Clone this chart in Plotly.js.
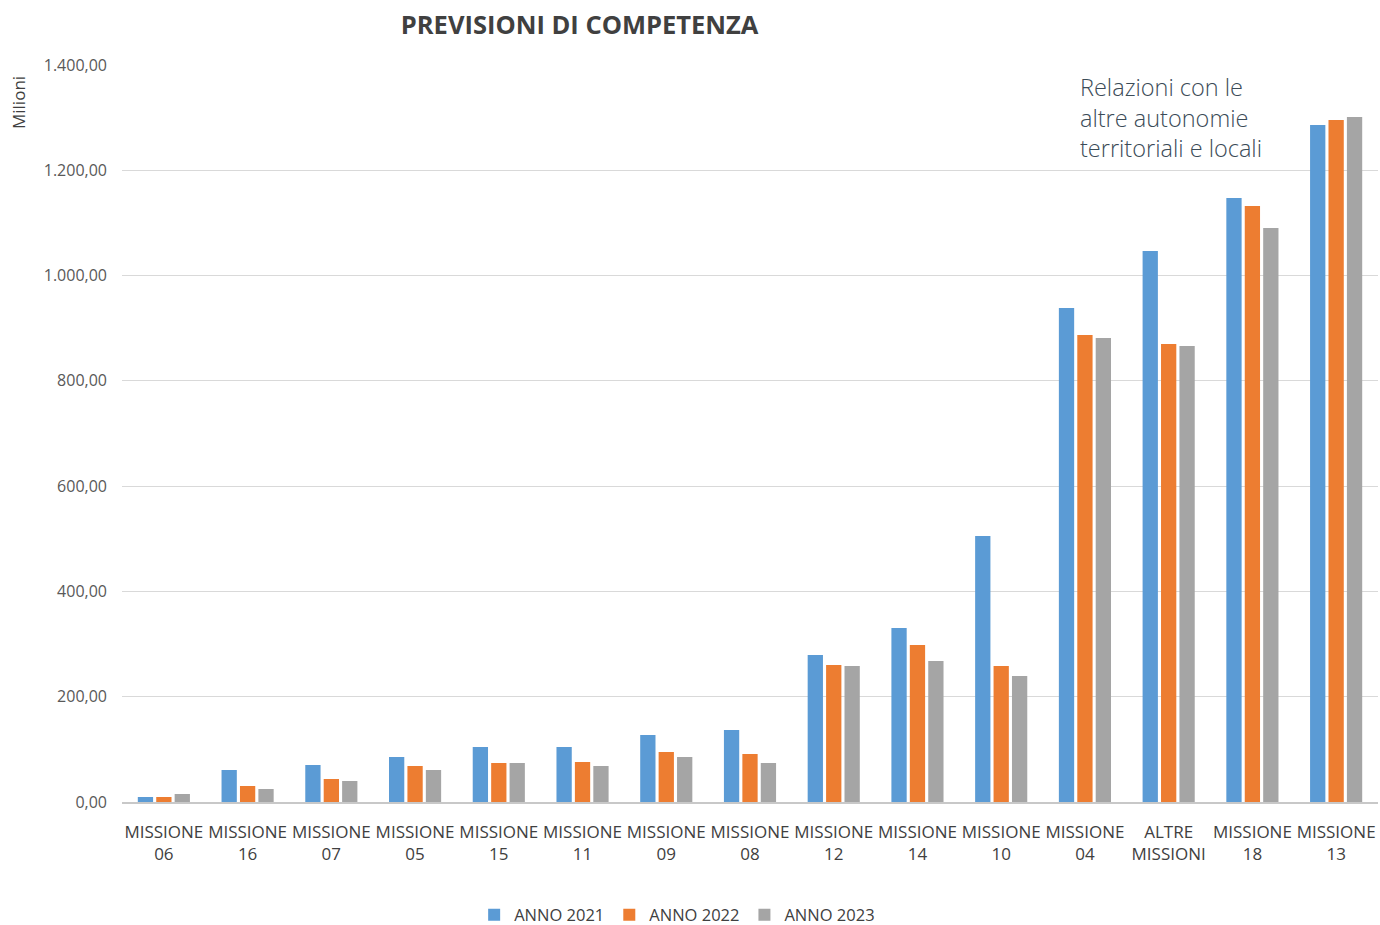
<!DOCTYPE html>
<html>
<head>
<meta charset="utf-8">
<script src="https://cdn.plot.ly/plotly-3.0.1.min.js"></script>
<style>html,body{margin:0;padding:0;background:#fff;}#chart{width:1380px;height:925px;}</style>
</head>
<body>
<div id="chart"></div>
<script>
var categories = ["MISSIONE<br>06","MISSIONE<br>16","MISSIONE<br>07","MISSIONE<br>05","MISSIONE<br>15","MISSIONE<br>11","MISSIONE<br>09","MISSIONE<br>08","MISSIONE<br>12","MISSIONE<br>14","MISSIONE<br>10","MISSIONE<br>04","ALTRE<br>MISSIONI","MISSIONE<br>18","MISSIONE<br>13"];
var anno2021 = [9.5, 60.8, 70.3, 85.5, 104.5, 104.5, 127.3, 136.8, 279.2, 330.5, 505.3, 938.4, 1046.7, 1147.4, 1286.0];
var anno2022 = [9.5, 30.4, 43.7, 68.4, 74.1, 76.0, 95.0, 91.2, 260.2, 298.2, 258.3, 887.1, 870.0, 1132.1, 1295.5];
var anno2023 = [15.2, 24.7, 39.9, 60.8, 74.1, 68.4, 85.5, 74.1, 258.3, 267.8, 239.3, 881.4, 866.2, 1090.4, 1301.2];
var seriesNames = ["ANNO 2021", "ANNO 2022", "ANNO 2023"];
var colors = ["#5b9bd5", "#ed7d31", "#a5a5a5"];

var font = "Open Sans, Noto Sans, DejaVu Sans, sans-serif";
var data = [anno2021, anno2022, anno2023].map(function(v, i){
  return {type:"bar", x:categories, y:v, name:seriesNames[i], marker:{color:colors[i]},
          hovertemplate:"%{y:,.2f}<extra></extra>"};
});

var layout = {
  width:1380, height:925,
  margin:{l:122, r:2, t:65, b:123},
  paper_bgcolor:"#ffffff", plot_bgcolor:"#ffffff",
  barmode:"group", bargap:0.34, bargroupgap:0.17,
  separators:",.",
  font:{family:font, color:"#595959", size:16},
  title:{text:"<b>PREVISIONI DI COMPETENZA</b>", x:0.42, xanchor:"center", y:0.973, yanchor:"middle",
         font:{family:font, size:25.5, color:"#404040"}},
  xaxis:{type:"category", showgrid:false, showline:true, linecolor:"#c8c8c8", linewidth:1.5,
         ticks:"", tickfont:{family:font, size:17, color:"#404040"}, tickangle:0,
         ticklabelstandoff:14, automargin:false},
  yaxis:{range:[0,1400], dtick:200, tickformat:",.2f", showgrid:true, gridcolor:"#d9d9d9", gridwidth:1,
         zeroline:false, showline:false, ticks:"", ticklabelstandoff:14, automargin:false,
         tickfont:{family:font, size:16, color:"#595959"}},
  showlegend:true,
  legend:{orientation:"h", x:0.442, xanchor:"center", xref:"paper", yref:"container", y:10/925, yanchor:"middle",
          font:{family:font, size:16.5, color:"#404040"}, itemwidth:30, traceorder:"normal"},
  annotations:[
    {text:"Milioni", xref:"paper", yref:"paper", x:(18-122)/1256, y:(802-103)/737, xanchor:"center", yanchor:"middle",
     textangle:-90, showarrow:false, font:{family:font, size:17, color:"#404040"}},
    {text:"Relazioni con le<br>altre autonomie<br>territoriali e locali", xref:"paper", yref:"paper",
     x:(1078-122)/1256, y:(802-117)/737, xanchor:"left", yanchor:"middle", align:"left",
     showarrow:false, font:{family:font, size:23.5, color:"#3b4b57", weight:300}}
  ]
};
Plotly.newPlot("chart", data, layout, {displayModeBar:false, staticPlot:true});
</script>
</body>
</html>
